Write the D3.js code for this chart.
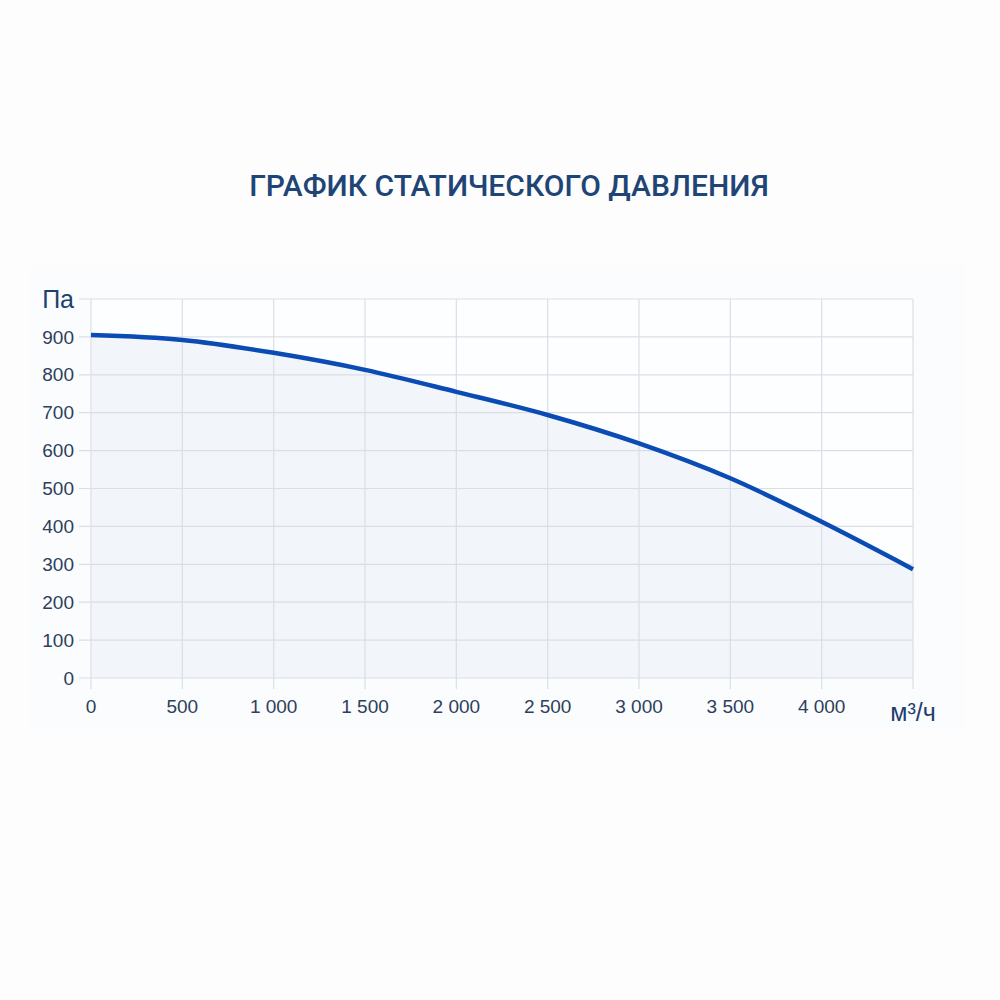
<!DOCTYPE html>
<html>
<head>
<meta charset="utf-8">
<script src="https://cdn.jsdelivr.net/npm/d3@7"></script>
<style>
    body { margin: 0; background: #fdfdfd; }
    svg { display: block; }
</style>
</head>
<body>
<svg width="1000" height="1000"></svg>
<script>
// расход, м³/ч и статическое давление, Па
const flow = [0, 500, 1000, 1500, 2000, 2500, 3000, 3500, 4000, 4500]
const pressure = [905, 892, 858, 813, 755, 694, 619, 527, 412, 287]

const xTicks = [0, 500, 1000, 1500, 2000, 2500, 3000, 3500, 4000]
const yTicks = [0, 100, 200, 300, 400, 500, 600, 700, 800, 900]

const title = 'ГРАФИК СТАТИЧЕСКОГО ДАВЛЕНИЯ'
const xUnit = 'м³/ч'
const yUnit = 'Па'

function render() {
    const svg = d3.select('svg')
    const textColor = '#2d3f5c'
    const gridColor = '#dadee6'
    const fmt = d3.formatLocale({ decimal: ',', thousands: '\u00a0', grouping: [3], currency: ['', ''] }).format(',d')

    const xScale = d3.scaleLinear().domain([0, 4500]).range([91, 913])
    const yScale = d3.scaleLinear().domain([0, 1000]).range([678, 299])

    const data = flow.map((f, i) => ({ f: f, p: pressure[i] }))

    // фон блока
    svg.append('rect')
        .attr('x', 30).attr('y', 265).attr('width', 935).attr('height', 465)
        .style('fill', '#fbfcfd')

    // фон области графика
    svg.append('rect')
        .attr('x', xScale(0)).attr('y', yScale(1000))
        .attr('width', xScale(4500) - xScale(0))
        .attr('height', yScale(0) - yScale(1000))
        .style('fill', '#fdfeff')

    const area = d3.area()
        .x(d => xScale(d.f))
        .y0(yScale(0))
        .y1(d => yScale(d.p))
        .curve(d3.curveMonotoneX)

    svg.append('path')
        .datum(data)
        .attr('d', area)
        .style('fill', '#f2f6fb')

    // сетка
    const grid = svg.append('g')
    yTicks.concat([1000]).forEach(function (v) {
        grid.append('line')
            .attr('x1', xScale(0) - 12).attr('x2', xScale(4500))
            .attr('y1', yScale(v)).attr('y2', yScale(v))
            .style('stroke', gridColor).style('stroke-width', 1.2)
    })
    xTicks.concat([4500]).forEach(function (v) {
        grid.append('line')
            .attr('x1', xScale(v)).attr('x2', xScale(v))
            .attr('y1', yScale(1000)).attr('y2', yScale(0) + 11)
            .style('stroke', gridColor).style('stroke-width', 1.2)
    })

    const line = d3.line()
        .x(d => xScale(d.f))
        .y(d => yScale(d.p))
        .curve(d3.curveMonotoneX)

    svg.append('path')
        .datum(data)
        .attr('d', line)
        .style('fill', 'none')
        .style('stroke', '#0a4bb4')
        .style('stroke-width', 4.5)

    // подписи осей
    svg.append('g').selectAll('text')
        .data(yTicks)
        .enter().append('text')
        .attr('x', 74)
        .attr('y', d => yScale(d))
        .attr('dy', '0.35em')
        .attr('text-anchor', 'end')
        .style('font', '19px "Liberation Sans", Arial, sans-serif')
        .style('fill', textColor)
        .text(d => d)

    svg.append('g').selectAll('text')
        .data(xTicks)
        .enter().append('text')
        .attr('x', d => xScale(d))
        .attr('y', 713)
        .attr('text-anchor', 'middle')
        .style('font', '19px "Liberation Sans", Arial, sans-serif')
        .style('fill', textColor)
        .text(d => fmt(d))

    svg.append('text')
        .attr('x', 74)
        .attr('y', yScale(1000))
        .attr('dy', '0.35em')
        .attr('text-anchor', 'end')
        .style('font', '25px "Liberation Sans", Arial, sans-serif')
        .style('fill', '#1f3f6e')
        .text(yUnit)

    svg.append('text')
        .attr('x', 913)
        .attr('y', 721)
        .attr('text-anchor', 'middle')
        .style('font', '25px "Liberation Sans", Arial, sans-serif')
        .style('fill', '#1f3f6e')
        .text(xUnit)

    svg.append('text')
        .attr('x', 509)
        .attr('y', 196)
        .attr('text-anchor', 'middle')
        .style('font', '500 30px Roboto, sans-serif')
        .style('fill', '#1f4577')
        .text(title)
}

render()
</script>
</body>
</html>
